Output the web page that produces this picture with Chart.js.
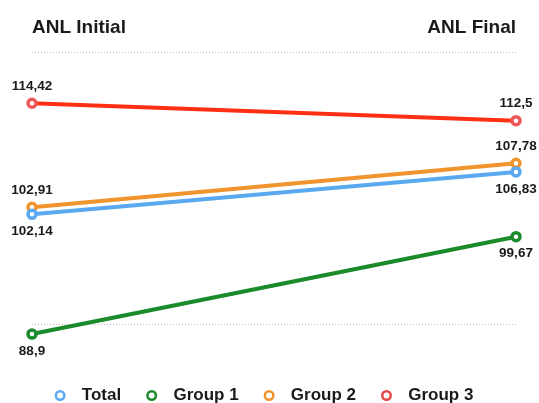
<!DOCTYPE html>
<html>
<head>
<meta charset="utf-8">
<script src="https://cdn.jsdelivr.net/npm/chart.js@4/dist/chart.umd.min.js"></script>
<style>
  html, body { margin: 0; padding: 0; background: #fff; }
  #wrap { width: 539px; height: 403px; }
</style>
</head>
<body>
<div id="wrap"><canvas id="c" width="539" height="403"></canvas></div>
<script>
// Stages on the x axis
const categories = ['ANL Initial', 'ANL Final'];

// Series values
const totalValues = [102.14, 106.83];
const group1Values = [88.9, 99.67];
const group2Values = [102.91, 107.78];
const group3Values = [114.42, 112.5];

// Reference grid values on the y axis
const gridTicks = [90, 120];

// Where each series' value labels sit relative to its points
const labelSides = {
  'Total': ['below', 'below'],
  'Group 1': ['below', 'below'],
  'Group 2': ['above', 'above'],
  'Group 3': ['above', 'above']
};

const FONT = 'Arial, "Liberation Sans", sans-serif';
const fmt = v => String(v).replace('.', ',');

const valueLabels = {
  id: 'valueLabels',
  afterDatasetsDraw(chart) {
    const ctx = chart.ctx;
    ctx.save();
    ctx.font = 'bold 13.5px ' + FONT;
    ctx.fillStyle = '#1a1a1a';
    ctx.textAlign = 'center';
    ctx.textBaseline = 'middle';
    chart.data.datasets.forEach((ds, i) => {
      const meta = chart.getDatasetMeta(i);
      meta.data.forEach((pt, j) => {
        const side = labelSides[ds.label][j];
        const dy = side === 'above' ? -17 : 17;
        ctx.fillText(fmt(ds.data[j]), pt.x, pt.y + dy);
      });
    });
    ctx.restore();
  }
};

function series(label, data, color, pointColor) {
  return {
    label,
    data,
    borderColor: color,
    backgroundColor: '#ffffff',
    pointBorderColor: pointColor || color,
    pointBackgroundColor: '#ffffff',
    borderWidth: 4,
    pointRadius: 4,
    pointBorderWidth: 3.5,
    pointHoverRadius: 4,
    tension: 0
  };
}

new Chart(document.getElementById('c'), {
  type: 'line',
  data: {
    labels: categories,
    datasets: [
      series('Total', totalValues, '#5aa8f0'),
      series('Group 1', group1Values, '#1b8a2b'),
      series('Group 2', group2Values, '#f0952c'),
      series('Group 3', group3Values, '#ff2f14', '#ee5858')
    ]
  },
  options: {
    responsive: false,
    animation: false,
    devicePixelRatio: 1,
    layout: { padding: { left: 9, right: 23, top: 2, bottom: -11 } },
    plugins: {
      tooltip: { enabled: false },
      legend: {
        position: 'bottom',
        labels: {
          usePointStyle: true,
          pointStyle: 'circle',
          boxWidth: 17,
          boxHeight: 6,
          padding: 22,
          color: '#1a1a1a',
          font: { family: FONT, size: 17, weight: 'bold' },
          generateLabels(chart) {
            return chart.data.datasets.map((ds, i) => ({
              text: ' ' + ds.label,
              fillStyle: '#ffffff',
              strokeStyle: i === 3 ? '#e84a4a' : ds.borderColor,
              lineWidth: 2.5,
              pointStyle: 'circle',
              datasetIndex: i,
              hidden: false,
              fontColor: '#1a1a1a'
            }));
          }
        }
      }
    },
    scales: {
      x: {
        position: 'top',
        offset: false,
        grid: { display: false, drawTicks: false },
        border: { display: false },
        ticks: {
          align: 'inner',
          padding: 14,
          color: '#1a1a1a',
          font: { family: FONT, size: 19, weight: 'bold' }
        }
      },
      y: {
        min: 85.48,
        max: 120,
        afterFit(scale) {
          scale.width = 23;
        },
        afterBuildTicks(scale) {
          scale.ticks = gridTicks.map(v => ({ value: v }));
        },
        ticks: { display: false },
        border: { display: false, dash: [1, 2] },
        grid: {
          color: '#bdbdbd',
          lineWidth: 1,
          drawTicks: false
        }
      }
    }
  },
  plugins: [valueLabels]
});
</script>
</body>
</html>
